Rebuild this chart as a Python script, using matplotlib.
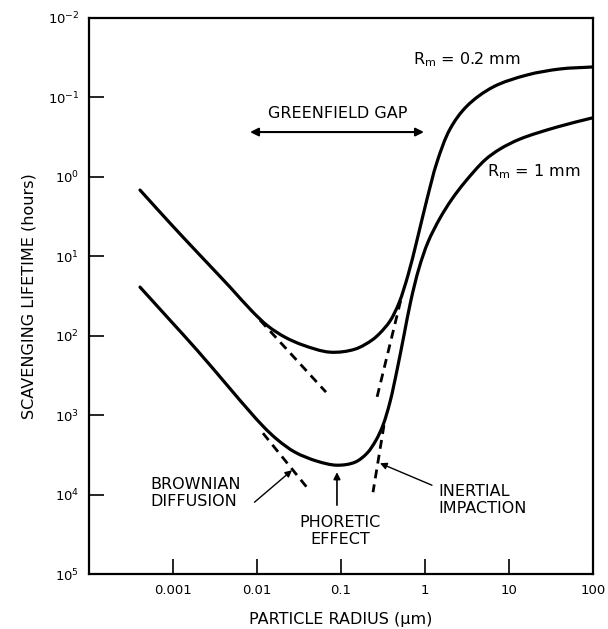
import numpy as np
import matplotlib
matplotlib.use("Agg")
import matplotlib.pyplot as plt
from matplotlib.path import Path
from matplotlib.patches import PathPatch

plt.rcParams['font.family'] = ['DejaVu Sans']
plt.rcParams['mathtext.default'] = 'regular'

# ---- data (log10 of particle radius in um, log10 of lifetime in hours) ----
# R_m = 0.2 mm
upper_logx = [-3.393, -3.036, -2.714, -2.321, -2.060, -1.869, -1.667, -1.452, -1.131,
              -0.833, -0.631, -0.536, -0.417, -0.310, -0.202, -0.095, 0.024, 0.143,
              0.298, 0.5, 0.810, 1.214, 1.607, 1.988]
upper_logy = [0.166, 0.582, 0.947, 1.388, 1.690, 1.879, 2.018, 2.118, 2.207,
              2.169, 2.055, 1.967, 1.816, 1.589, 1.237, 0.796, 0.280, -0.186,
              -0.602, -0.892, -1.131, -1.282, -1.358, -1.383]
# R_m = 1 mm
lower_logx = [-3.393, -3.036, -2.714, -1.940, -1.75, -1.548, -1.286, -1.048,
              -0.833, -0.690, -0.583, -0.5, -0.417, -0.333, -0.25, -0.167, -0.071,
              0.036, 0.179, 0.321, 0.476, 0.714, 0.893, 1.131, 1.571, 1.988]
lower_logy = [1.388, 1.804, 2.181, 3.126, 3.315, 3.466, 3.579, 3.630,
              3.592, 3.479, 3.315, 3.126, 2.836, 2.433, 1.992, 1.552, 1.149,
              0.821, 0.519, 0.280, 0.065, -0.212, -0.350, -0.476, -0.627, -0.741]

# dashed asymptotes (Brownian diffusion, inertial impaction)
brown_up_logx = [-1.964, -1.179]
brown_up_logy = [1.804, 2.710]
brown_lo_logx = [-1.929, -1.369]
brown_lo_logy = [3.227, 3.957]
inert_up_logx = [-0.290, -0.571]
inert_up_logy = [1.560, 2.773]
inert_lo_logx = [-0.488, -0.619]
inert_lo_logy = [3.126, 3.970]

xticks = [1e-3, 1e-2, 1e-1, 1, 10, 100]
xticklabels = ['0.001', '0.01', '0.1', '1', '10', '100']
yticks = [1e-2, 1e-1, 1e0, 1e1, 1e2, 1e3, 1e4, 1e5]
yticklabels = ['$10^{-2}$', '$10^{-1}$', '$10^{0}$', '$10^{1}$', '$10^{2}$',
               '$10^{3}$', '$10^{4}$', '$10^{5}$']


def p(lx, ly):
    return 10 ** np.array(lx), 10 ** np.array(ly)


def smooth_path(lx, ly, alpha=0.5, xscale=1.058):
    """Bezier path through the given points (centripetal Catmull-Rom, log space)."""
    pts = np.column_stack([lx, ly]).astype(float)
    n = len(pts)
    ext = np.vstack([2 * pts[0] - pts[1], pts, 2 * pts[-1] - pts[-2]])
    sc = np.array([xscale, 1.0])

    def dist(a, b):
        return max(np.hypot(*((a - b) * sc)), 1e-9)

    verts = [pts[0]]
    codes = [Path.MOVETO]
    for i in range(n - 1):
        p0, p1, p2, p3 = ext[i], ext[i + 1], ext[i + 2], ext[i + 3]
        d1, d2, d3 = dist(p0, p1), dist(p1, p2), dist(p2, p3)
        d1a, d2a, d3a = d1 ** alpha, d2 ** alpha, d3 ** alpha
        d1b, d2b, d3b = d1 ** (2 * alpha), d2 ** (2 * alpha), d3 ** (2 * alpha)
        A = 2 * d1b + 3 * d1a * d2a + d2b
        B = 2 * d3b + 3 * d3a * d2a + d2b
        N = 3 * d1a * (d1a + d2a)
        M = 3 * d3a * (d3a + d2a)
        c1 = (d1b * p2 - d2b * p0 + A * p1) / N
        c2 = (d3b * p1 - d2b * p3 + B * p2) / M
        verts += [c1, c2, p2]
        codes += [Path.CURVE4] * 3
    return Path(10 ** np.array(verts), codes)


fig = plt.figure(figsize=(6.08, 6.29), dpi=100)
ax = fig.add_axes([0.1464, 0.0874, 0.8289, 0.884])
ax.set_xscale('log')
ax.set_yscale('log')
ax.set_xlim(1e-4, 1e2)
ax.set_ylim(1e5, 1e-2)

lw = 2.3
for lx, ly in [(upper_logx, upper_logy), (lower_logx, lower_logy)]:
    patch = PathPatch(smooth_path(lx, ly), facecolor='none', edgecolor='black',
                      lw=lw, capstyle='round', joinstyle='round', transform=ax.transData)
    ax.add_patch(patch)
for lx, ly in [(brown_up_logx, brown_up_logy), (brown_lo_logx, brown_lo_logy),
               (inert_up_logx, inert_up_logy), (inert_lo_logx, inert_lo_logy)]:
    ax.plot(*p(lx, ly), color='black', lw=2.0, dashes=(3.2, 2.2))

ax.set_xticks(xticks)
ax.set_xticklabels(xticklabels)
ax.set_yticks(yticks)
ax.set_yticklabels(yticklabels)
ax.minorticks_off()
ax.tick_params(direction='in', length=11, width=1.2, labelsize=9.5, pad=7)
for s in ax.spines.values():
    s.set_linewidth(1.6)

ax.set_xlabel('PARTICLE RADIUS (µm)', fontsize=11.5, labelpad=11)
ax.set_ylabel('SCAVENGING LIFETIME (hours)', fontsize=11.5, labelpad=8)

fs = 11.5
ax.text(10 ** -0.143, 10 ** -1.47, '$R_m$ = 0.2 mm', fontsize=fs, ha='left', va='center')
ax.text(10 ** 0.738, 10 ** -0.06, '$R_m$ = 1 mm', fontsize=fs, ha='left', va='center')
ax.text(10 ** -1.04, 10 ** -0.80, 'GREENFIELD GAP', fontsize=fs, ha='center', va='center')
ax.annotate('', xy=(10 ** -0.012, 10 ** -0.564), xytext=(10 ** -2.083, 10 ** -0.564),
            arrowprops=dict(arrowstyle='<|-|>', lw=1.5, color='black', mutation_scale=12,
                            shrinkA=0, shrinkB=0))

ax.text(10 ** -3.274, 10 ** 3.98, 'BROWNIAN\nDIFFUSION', fontsize=fs, ha='left', va='center',
        linespacing=1.15)
ax.annotate('', xy=(10 ** -1.583, 10 ** 3.693), xytext=(10 ** -2.03, 10 ** 4.096),
            arrowprops=dict(arrowstyle='-|>', lw=1.0, color='black', mutation_scale=10,
                            shrinkA=0, shrinkB=0))

ax.text(10 ** -1.012, 10 ** 4.46, 'PHORETIC\nEFFECT', fontsize=fs, ha='center', va='center',
        linespacing=1.15)
ax.annotate('', xy=(10 ** -1.048, 10 ** 3.718), xytext=(10 ** -1.048, 10 ** 4.133),
            arrowprops=dict(arrowstyle='-|>', lw=1.2, color='black', mutation_scale=10,
                            shrinkA=0, shrinkB=0))

ax.text(10 ** 0.155, 10 ** 4.07, 'INERTIAL\nIMPACTION', fontsize=fs, ha='left', va='center',
        linespacing=1.15)
ax.annotate('', xy=(10 ** -0.536, 10 ** 3.605), xytext=(10 ** 0.083, 10 ** 3.882),
            arrowprops=dict(arrowstyle='-|>', lw=1.0, color='black', mutation_scale=10,
                            shrinkA=0, shrinkB=0))

fig.savefig('out.png', dpi=100)
